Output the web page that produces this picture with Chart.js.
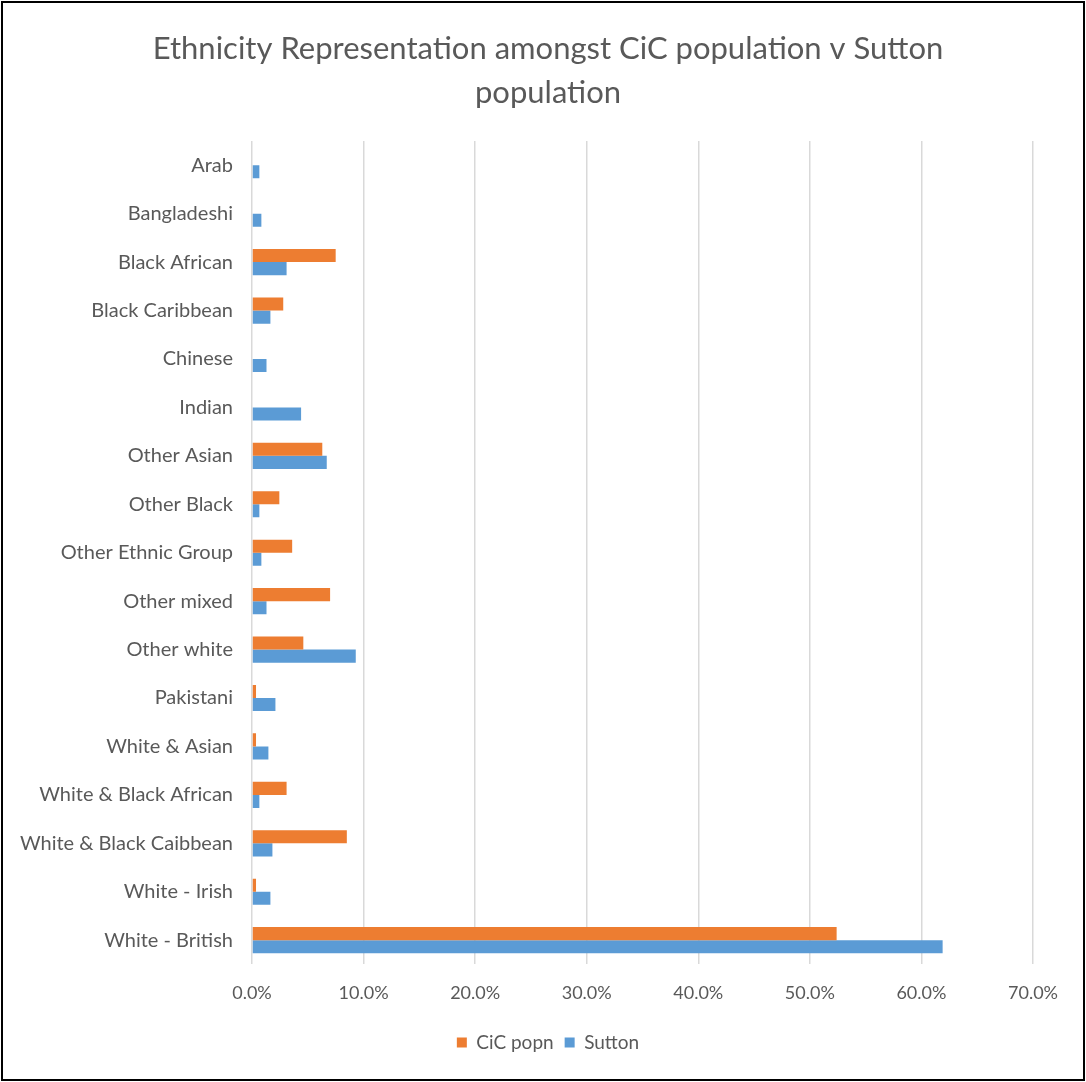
<!DOCTYPE html>
<html lang="en">
<head>
  <meta charset="UTF-8">
  <script src="https://cdn.jsdelivr.net/npm/chart.js"></script>
  <title>Ethnicity Representation</title>
  <style>
    html, body { margin: 0; padding: 0; background: #fff; }
    .moldura {
      position: absolute; left: 1px; top: 1px;
      width: 1080px; height: 1076px;
      border: 2px solid #000; background: #fff;
    }
  </style>
</head>
<body>
  <div class="moldura">
    <canvas id="grafico"></canvas>
  </div>
<script>
  // categorias e valores (%)
  const categorias = [
    "Arab", "Bangladeshi", "Black African", "Black Caribbean", "Chinese", "Indian",
    "Other Asian", "Other Black", "Other Ethnic Group", "Other mixed", "Other white",
    "Pakistani", "White & Asian", "White & Black African", "White & Black Caibbean",
    "White - Irish", "White - British"
  ];
  const cicPopn = [0, 0, 7.5, 2.8, 0, 0, 6.3, 2.45, 3.6, 7.0, 4.6, 0.36, 0.36, 3.1, 8.5, 0.36, 52.4];
  const sutton = [0.66, 0.84, 3.1, 1.65, 1.3, 4.4, 6.7, 0.66, 0.84, 1.3, 9.3, 2.1, 1.47, 0.66, 1.83, 1.65, 61.9];
  const ticksX = [0, 10, 20, 30, 40, 50, 60, 70];

  const cinza = '#595959';
  const ctx = document.getElementById('grafico');

  new Chart(ctx, {
    type: 'bar',
    data: {
      labels: categorias,
      datasets: [{
        label: 'CiC popn',
        data: cicPopn,
        backgroundColor: '#ED7D31',
        categoryPercentage: 0.54,
        barPercentage: 1
      }, {
        label: 'Sutton',
        data: sutton,
        backgroundColor: '#5B9BD5',
        categoryPercentage: 0.54,
        barPercentage: 1
      }]
    },
    options: {
      indexAxis: 'y',
      responsive: true,
      maintainAspectRatio: false,
      animation: false,
      layout: { padding: { left: 12, right: 2, top: 14, bottom: 17 } },
      plugins: {
        title: {
          display: true,
          text: ['Ethnicity Representation amongst CiC population v Sutton', 'population'],
          color: cinza,
          font: { family: 'Lato', size: 31, weight: 'normal', lineHeight: 1.42 },
          padding: { top: 10, bottom: 26 }
        },
        legend: {
          position: 'bottom',
          labels: {
            color: cinza,
            font: { family: 'Lato', size: 19 },
            boxWidth: 10,
            boxHeight: 10,
            padding: 11
          }
        },
        tooltip: { enabled: false }
      },
      scales: {
        x: {
          min: 0,
          max: 70,
          afterBuildTicks: axis => { axis.ticks = ticksX.map(v => ({ value: v })); },
          afterFit: axis => { axis.paddingRight = 50; },
          ticks: {
            color: cinza,
            font: { family: 'Lato', size: 18 },
            padding: 18,
            callback: v => v.toFixed(1) + '%'
          },
          grid: { color: '#d9d9d9', lineWidth: 1.5, drawTicks: false },
          border: { display: false }
        },
        y: {
          afterFit: axis => { axis.width = 237; },
          ticks: {
            color: cinza,
            font: { family: 'Lato', size: 20 },
            padding: 19
          },
          grid: { display: false, drawTicks: false },
          border: { display: false }
        }
      }
    }
  });
</script>
</body>
</html>
